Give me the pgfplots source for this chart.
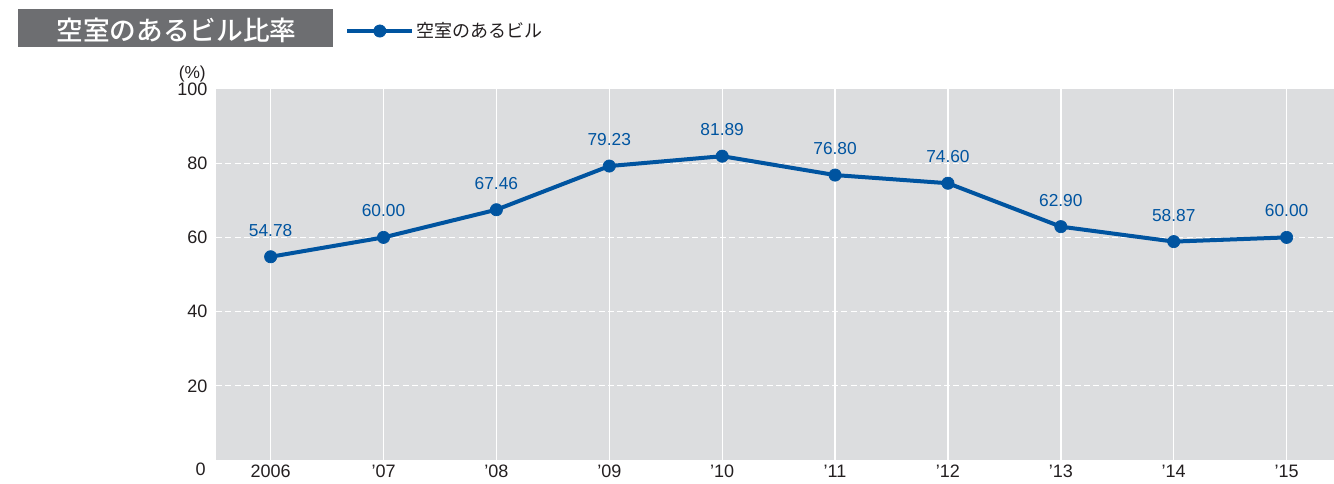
\documentclass[border=0pt]{standalone}
\usepackage{fontspec}
\setmainfont{Liberation Sans}
\newfontfamily\cjk{Noto Sans CJK JP}
\newfontfamily\cjkm{Noto Sans CJK JP}[UprightFont={* Medium}]
\usepackage{pgfplots}
\pgfplotsset{compat=1.18}
\definecolor{lineblue}{RGB}{0,84,160}
\definecolor{bggray}{RGB}{220,221,223}
\definecolor{titlegray}{RGB}{109,110,113}
\definecolor{txt}{RGB}{35,31,32}
\begin{document}
\begin{tikzpicture}[x=1pt,y=1pt]
\useasboundingbox (-162pt,-17.25pt) rectangle (838.5pt,345pt);
\begin{axis}[
  at={(0pt,0pt)}, anchor=south west,
  scale only axis, width=838.5pt, height=278.25pt,
  xmin=-0.484, xmax=9.42, ymin=0, ymax=100,
  xtick={0,...,9},
  xticklabels={2006,’07,’08,’09,’10,’11,’12,’13,’14,’15},
  ytick={20,40,60,80},
  extra y ticks={100},
  extra y tick style={grid=none},
  axis background/.style={fill=bggray},
  axis line style={draw=none},
  major tick length=0pt,
  xmajorgrids, ymajorgrids,
  x grid style={white, line width=1pt},
  y grid style={white, line width=1pt, dash pattern=on 4.5pt off 2.5pt},
  tick label style={font=\fontsize{13.5}{15}\selectfont, text=txt},
  yticklabel style={xshift=-3pt},
  /pgf/number format/assume math mode=true,
  clip=false,
  legend style={draw=none, fill=none, inner sep=0pt,
    at={(axis description cs:0.1154,1.1563)}, anchor=west,
    font=\cjk\fontsize{13.5}{16}\selectfont, text=txt},
  legend image code/.code={\draw[mark repeat=2, mark phase=2] plot coordinates {(0pt,0pt) (24.4pt,0pt) (48.75pt,0pt)};},
]
\addplot[lineblue, line width=3pt, mark=*, mark size=4.6pt,
  mark options={line width=0.5pt},
  point meta=explicit symbolic,
  nodes near coords,
  every node near coord/.append style={font=\fontsize{13}{15}\selectfont, text=lineblue, anchor=south, inner sep=0pt, yshift=15pt},
] coordinates {
  (0,54.78) [54.78]
  (1,60.00) [60.00]
  (2,67.46) [67.46]
  (3,79.23) [79.23]
  (4,81.89) [81.89]
  (5,76.80) [76.80]
  (6,74.60) [74.60]
  (7,62.90) [62.90]
  (8,58.87) [58.87]
  (9,60.00) [60.00]
};
\addlegendentry{空室のあるビル}
\end{axis}
\fill[titlegray] (-148.5pt,310pt) rectangle (87.75pt,338pt);
\node[text=white, font=\cjkm\fontsize{20}{22}\selectfont, inner sep=0pt] at (-29.6pt,322.5pt) {空室のあるビル比率};
\node[anchor=east, inner sep=0pt, font=\fontsize{13}{15}\selectfont, text=txt] at (-7.5pt,289.5pt) {(\%)};
\node[anchor=east, inner sep=0pt, font=\fontsize{13.5}{15}\selectfont, text=txt] at (-7.5pt,-7pt) {0};
\end{tikzpicture}
\end{document}
